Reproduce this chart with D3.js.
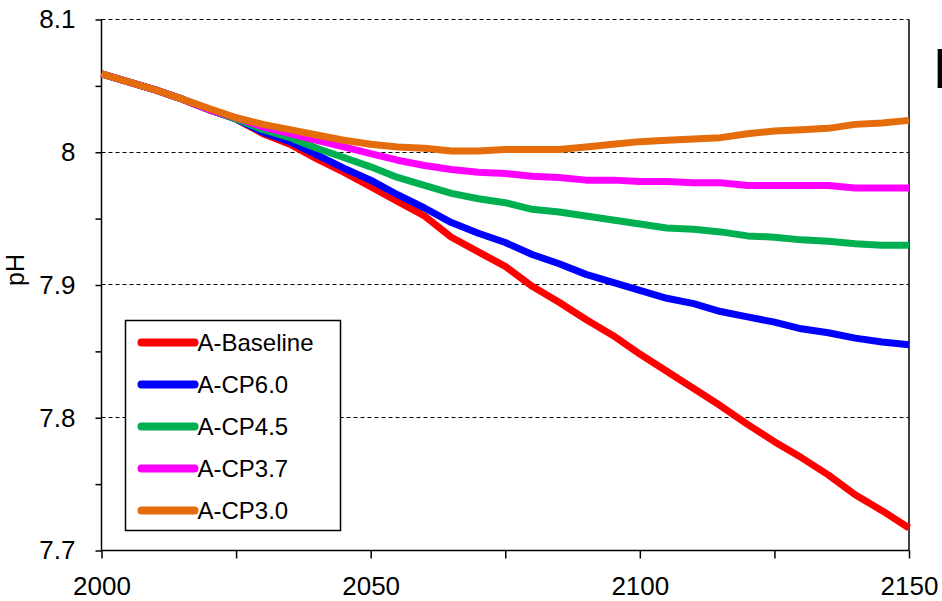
<!DOCTYPE html>
<html>
<head>
<meta charset="utf-8">
<script src="https://cdn.jsdelivr.net/npm/d3@7"></script>
<style>
  body { margin: 0; background: #fff; }
  svg { display: block; font-family: Arial, "Liberation Sans", sans-serif; }
</style>
</head>
<body>
<div id="chart"></div>
<script>
// years, 5-year steps
const years = d3.range(2000, 2151, 5)

const baseline = [8.059, 8.053, 8.047, 8.040, 8.032, 8.025, 8.014, 8.006, 7.995, 7.985, 7.974,
  7.963, 7.952, 7.936, 7.925, 7.914, 7.899, 7.887, 7.874, 7.862, 7.848,
  7.835, 7.822, 7.809, 7.795, 7.782, 7.770, 7.757, 7.742, 7.730, 7.717]
const cp60 = [8.059, 8.053, 8.047, 8.040, 8.032, 8.025, 8.015, 8.008, 7.998, 7.988, 7.979,
  7.968, 7.958, 7.947, 7.939, 7.932, 7.923, 7.916, 7.908, 7.902, 7.896,
  7.890, 7.886, 7.880, 7.876, 7.872, 7.867, 7.864, 7.860, 7.857, 7.855]
const cp45 = [8.059, 8.053, 8.047, 8.040, 8.032, 8.025, 8.017, 8.011, 8.003, 7.996, 7.989,
  7.981, 7.975, 7.969, 7.965, 7.962, 7.957, 7.955, 7.952, 7.949, 7.946,
  7.943, 7.942, 7.940, 7.937, 7.936, 7.934, 7.933, 7.931, 7.930, 7.930]
const cp37 = [8.059, 8.053, 8.047, 8.040, 8.032, 8.026, 8.019, 8.014, 8.009, 8.004, 7.999,
  7.994, 7.990, 7.987, 7.985, 7.984, 7.982, 7.981, 7.979, 7.979, 7.978,
  7.978, 7.977, 7.977, 7.975, 7.975, 7.975, 7.975, 7.973, 7.973, 7.973]
const cp30 = [8.059, 8.053, 8.047, 8.040, 8.033, 8.026, 8.021, 8.017, 8.013, 8.009, 8.006,
  8.004, 8.003, 8.001, 8.001, 8.002, 8.002, 8.002, 8.004, 8.006, 8.008,
  8.009, 8.010, 8.011, 8.014, 8.016, 8.017, 8.018, 8.021, 8.022, 8.024]

const seriesNames = ['A-Baseline', 'A-CP6.0', 'A-CP4.5', 'A-CP3.7', 'A-CP3.0']
const seriesValues = [baseline, cp60, cp45, cp37, cp30]
const seriesColors = ['#ff0000', '#0000ff', '#00b050', '#ff00ff', '#e46c0a']

const yTicks = d3.range(7.7, 8.1001, 0.05).map(v => +v.toFixed(2))
const yGrid = [7.8, 7.9, 8.0, 8.1]
const xTicks = d3.range(2000, 2151, 25)

const width = 942, height = 601
const margin = { left: 101.5, right: 33, top: 19.5, bottom: 50.5 }

const svg = d3.select('#chart').append('svg')
  .attr('width', width)
  .attr('height', height)

const x = d3.scaleLinear()
  .domain([2000, 2150])
  .range([margin.left, width - margin.right])

const y = d3.scaleLinear()
  .domain([7.7, 8.1])
  .range([height - margin.bottom, margin.top])

const snap = v => Math.round(v - 0.5) + 0.5

// dashed grid
svg.append('g')
  .selectAll('line')
  .data(yGrid)
  .enter()
  .append('line')
  .attr('x1', x(2000))
  .attr('x2', x(2150))
  .attr('y1', d => snap(y(d)))
  .attr('y2', d => snap(y(d)))
  .attr('stroke', '#000')
  .attr('stroke-width', 1.2)
  .attr('stroke-dasharray', '4,3')

// right border
svg.append('line')
  .attr('x1', x(2150)).attr('x2', x(2150))
  .attr('y1', y(8.1)).attr('y2', y(7.7))
  .attr('stroke', '#000')
  .attr('stroke-width', 1.5)

const yAxis = svg.append('g')
  .attr('transform', `translate(${x(2000)},0)`)
  .call(d3.axisLeft(y)
    .tickValues(yTicks)
    .tickSize(6)
    .tickPadding(20)
    .tickFormat(d => Math.abs(d * 10 - Math.round(d * 10)) < 1e-6 ? (d === 8 ? '8' : d3.format('.1f')(d)) : ''))

const xAxis = svg.append('g')
  .attr('transform', `translate(0,${y(7.7)})`)
  .call(d3.axisBottom(x)
    .tickValues(xTicks)
    .tickSize(8)
    .tickPadding(18)
    .tickFormat(d => d % 50 === 0 ? d : ''))

;[yAxis, xAxis].forEach(ax => {
  ax.select('.domain').attr('stroke', '#000').attr('stroke-width', 1.5)
  ax.selectAll('.tick line').attr('stroke', '#000').attr('stroke-width', 1.5)
  ax.selectAll('.tick text')
    .attr('fill', '#000')
    .style('font-size', '26px')
    .style('font-family', 'Arial, "Liberation Sans", sans-serif')
})
yAxis.select('.domain').attr('d', `M0,${y(8.1)}V${y(7.7)}`)
xAxis.select('.domain').attr('d', `M${x(2000)},0H${x(2150)}`)

// y label
svg.append('text')
  .attr('transform', `translate(24,${y(7.9) - 15}) rotate(-90)`)
  .attr('text-anchor', 'middle')
  .style('font-size', '25px')
  .text('pH')

// lines
const line = d3.line()
  .x((d, i) => x(years[i]))
  .y(d => y(d))

svg.append('g')
  .selectAll('path')
  .data(seriesValues)
  .enter()
  .append('path')
  .attr('d', d => line(d))
  .attr('fill', 'none')
  .attr('stroke', (d, i) => seriesColors[i])
  .attr('stroke-width', 7)
  .attr('stroke-linejoin', 'round')

// legend
const legend = svg.append('g').attr('transform', 'translate(125.5,320.5)')
legend.append('rect')
  .attr('width', 215)
  .attr('height', 210)
  .attr('fill', '#fff')
  .attr('stroke', '#000')
  .attr('stroke-width', 1.5)

const item = legend.selectAll('g.item')
  .data(seriesNames)
  .enter()
  .append('g')
  .attr('class', 'item')
  .attr('transform', (d, i) => `translate(0,${22 + i * 42})`)

item.append('line')
  .attr('x1', 16).attr('x2', 69)
  .attr('stroke', (d, i) => seriesColors[i])
  .attr('stroke-width', 8)
  .attr('stroke-linecap', 'round')

item.append('text')
  .attr('x', 72)
  .attr('dy', '0.36em')
  .style('font-size', '24px')
  .text(d => d)

// panel letter, cut off at the right edge as in the original
svg.append('text')
  .attr('x', 934)
  .attr('y', 88)
  .style('font-size', '54px')
  .text('b')
</script>
</body>
</html>
